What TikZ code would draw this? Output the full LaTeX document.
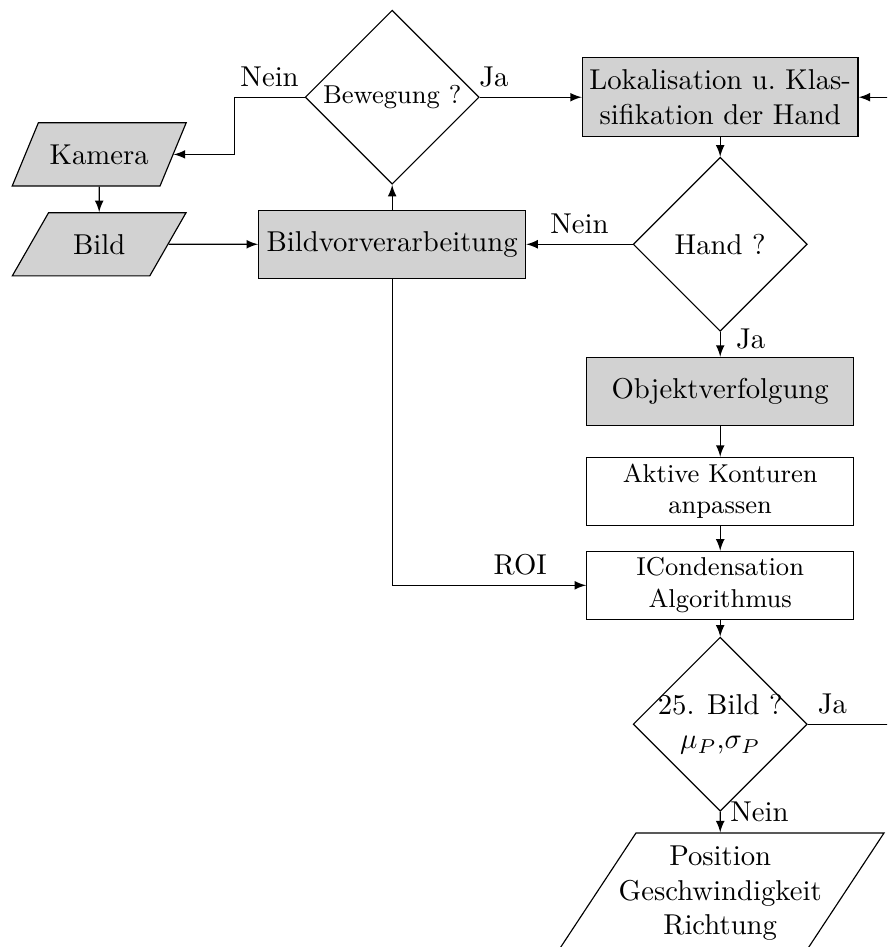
\documentclass[tikz,border=0pt]{standalone}
\usepackage{amsmath}
\usepackage{xcolor}
\usepackage{tikz}
\usetikzlibrary{shapes.geometric, arrows, positioning}
\tikzstyle{arrow} = [->,>=latex]
\tikzstyle{block} = [rectangle, draw, fill=gray!35, text centered, minimum width=93pt, minimum height=23.7pt, inner sep=1pt]
\tikzstyle{decision} = [diamond, draw, aspect=1, minimum width=60.6pt, minimum height=60.6pt, inner sep=-2pt]
\tikzstyle{io} = [trapezium, trapezium left angle=57, trapezium right angle=123, trapezium stretches=true, draw, fill=gray!35, minimum width=60.6pt, minimum height=22pt]
\tikzset{every node/.style={align=center}}

\begin{document}
\begin{tikzpicture}[node distance=1.8cm]
    \useasboundingbox (0,0) rectangle (10.857,-11.591);
    \clip (0,0) rectangle (10.857,-11.591);

    \node (bew) [decision, font=\small] at (4.80,-1.19) {Bewegung ?};
    \node (lok) [block, right of=bew, xshift=2.215cm, text width=94pt, minimum height=27.5pt] {Lokalisation u.\ Klas-\\sifikation der Hand};
    \node (kam) [io, left of=bew, xshift=-1.786cm, yshift=-0.70cm] {Kamera};
    \node (bild) [io, below of=kam, yshift=0.7cm] {Bild};
    \node (bvv) [block, below of=bew] {Bildvorverarbeitung};
    \node (hand) [decision, below of=lok] {Hand ?};
    \node (obj) [block, below of=hand] {Objektverfolgung};
    \node (akt) [block, fill=white, font=\small, below of=obj, yshift=0.576cm] {Aktive Konturen\\anpassen};
    \node (icond) [block, fill=white, font=\small, below of=akt, yshift=0.65cm] {ICondensation\\Algorithmus};
    \node (b25) [decision, below of=icond, yshift=0.1cm] {25. Bild ?\\$\mu_P$,$\sigma_P$};
    \node (pos) [io, fill=white, trapezium left angle=55, trapezium right angle=125, inner xsep=-6pt, minimum width=100pt, minimum height=42pt, below of=b25, yshift=-0.27cm] {Position\\Geschwindigkeit\\Richtung};

    \draw [arrow] (bew.west) -- node[anchor=south]{Nein} ++(-0.857,0) |- (kam.east);
    \draw [arrow] (bew.east) -- node[above, pos=0.14]{Ja} (lok.west);
    \draw [arrow] (kam) -- (bild);
    \draw [arrow] (bild) -- (bvv);
    \draw [arrow] (bvv) -- (bew);
    \draw [arrow] (lok) -- (hand);
    \draw [arrow] (hand) -- node[anchor=south]{Nein} (bvv);
    \draw [arrow] (hand) -- node[anchor=west, pos=0.3, xshift=2pt]{Ja} (obj);
    \draw [arrow] (obj) -- (akt);
    \draw [arrow] (akt) -- (icond);
    \draw [arrow] (icond) -- (b25);
    \draw [arrow] (bvv.south) |- node[anchor=south, pos=0.83]{ROI} (icond.west);
    \draw [arrow] (b25) -- node[anchor=west, pos=0]{Nein} (pos);
    % back to the hand search, off the right edge
    \draw [arrow] (b25.east) -- node[above, pos=0.25]{Ja} ++(1.2,0) |- (lok.east);
\end{tikzpicture}
\end{document}
